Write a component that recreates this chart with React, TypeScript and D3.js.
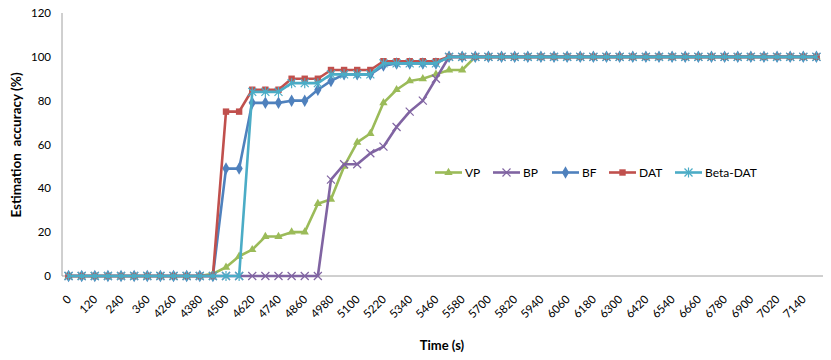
import * as d3 from "d3";
import React from "react";

const categories = [
  0, 60, 120, 180, 240, 300, 360, 4200, 4260, 4320, 4380, 4440, 4500, 4560,
  4620, 4680, 4740, 4800, 4860, 4920, 4980, 5040, 5100, 5160, 5220, 5280,
  5340, 5400, 5460, 5520, 5580, 5640, 5700, 5760, 5820, 5880, 5940, 6000,
  6060, 6120, 6180, 6240, 6300, 6360, 6420, 6480, 6540, 6600, 6660, 6720,
  6780, 6840, 6900, 6960, 7020, 7080, 7140, 7200,
];

const vp = [
  0, 0, 0, 0, 0, 0, 0, 0, 0, 0, 0, 1, 4, 9, 12, 18, 18, 20, 20, 33, 35, 50,
  61, 65, 79, 85, 89, 90, 92, 94, 94, 100, 100, 100, 100, 100, 100, 100, 100,
  100, 100, 100, 100, 100, 100, 100, 100, 100, 100, 100, 100, 100, 100, 100,
  100, 100, 100, 100,
];
const bp = [
  0, 0, 0, 0, 0, 0, 0, 0, 0, 0, 0, 0, 0, 0, 0, 0, 0, 0, 0, 0, 44, 51, 51, 56,
  59, 68, 75, 80, 90, 100, 100, 100, 100, 100, 100, 100, 100, 100, 100, 100,
  100, 100, 100, 100, 100, 100, 100, 100, 100, 100, 100, 100, 100, 100, 100,
  100, 100, 100,
];
const bf = [
  0, 0, 0, 0, 0, 0, 0, 0, 0, 0, 0, 0, 49, 49, 79, 79, 79, 80, 80, 85, 89, 92,
  92, 92, 96, 97, 97, 97, 97, 100, 100, 100, 100, 100, 100, 100, 100, 100,
  100, 100, 100, 100, 100, 100, 100, 100, 100, 100, 100, 100, 100, 100, 100,
  100, 100, 100, 100, 100,
];
const dat = [
  0, 0, 0, 0, 0, 0, 0, 0, 0, 0, 0, 0, 75, 75, 85, 85, 85, 90, 90, 90, 94, 94,
  94, 94, 98, 98, 98, 98, 98, 100, 100, 100, 100, 100, 100, 100, 100, 100,
  100, 100, 100, 100, 100, 100, 100, 100, 100, 100, 100, 100, 100, 100, 100,
  100, 100, 100, 100, 100,
];
const betaDat = [
  0, 0, 0, 0, 0, 0, 0, 0, 0, 0, 0, 0, 0, 0, 84, 84, 84, 88, 88, 88, 92, 92,
  92, 92, 97, 97, 97, 97, 97, 100, 100, 100, 100, 100, 100, 100, 100, 100,
  100, 100, 100, 100, 100, 100, 100, 100, 100, 100, 100, 100, 100, 100, 100,
  100, 100, 100, 100, 100,
];

const yTicks = [0, 20, 40, 60, 80, 100, 120];

const series = [
  { name: "VP", values: vp, color: "#9BBB59", marker: "triangle" },
  { name: "BP", values: bp, color: "#8064A2", marker: "x" },
  { name: "BF", values: bf, color: "#4F81BD", marker: "diamond" },
  { name: "DAT", values: dat, color: "#C0504D", marker: "square" },
  { name: "Beta-DAT", values: betaDat, color: "#4BACC6", marker: "star" },
];

const font = "Lato, 'Open Sans', sans-serif";

function Marker({ type, color, x, y }) {
  if (type === "triangle")
    return (
      <path
        transform={`translate(${x},${y})`}
        d={d3.symbol(d3.symbolTriangle, 30)()}
        fill={color}
      />
    );
  if (type === "diamond")
    return (
      <path
        transform={`translate(${x},${y})`}
        d={d3.symbol(d3.symbolDiamond, 45)()}
        fill={color}
      />
    );
  if (type === "square")
    return <rect x={x - 3.2} y={y - 3.2} width={6.4} height={6.4} fill={color} />;
  const r = 4;
  const p = `M${x - r},${y - r}L${x + r},${y + r}M${x - r},${y + r}L${x + r},${y - r}`;
  if (type === "x")
    return <path d={p} stroke={color} strokeWidth={1.2} fill="none" />;
  return (
    <path
      d={p + `M${x},${y - r - 1}L${x},${y + r + 1}`}
      stroke={color}
      strokeWidth={1.2}
      fill="none"
    />
  );
}

export default function App() {
  const width = 831;
  const height = 360;
  const left = 62;
  const right = 823;
  const top = 13;
  const bottom = 276;

  const x = d3.scaleBand().domain(categories.map(String)).range([left, right]);
  const cx = (i) => x(String(categories[i])) + x.bandwidth() / 2;
  const y = d3.scaleLinear().domain([0, 120]).range([bottom, top]);

  const line = d3
    .line()
    .x((d, i) => cx(i))
    .y((d) => y(d));

  const legendX = [435, 493, 552, 609, 675];

  return (
    <svg
      width={width}
      height={height}
      style={{ position: "absolute", left: 0, top: 0, background: "#fff" }}
      fontFamily={font}
    >
      <line x1={left} x2={left} y1={top} y2={bottom} stroke="#a0a0a0" />
      <line x1={left} x2={right} y1={bottom} y2={bottom} stroke="#a0a0a0" />

      {yTicks.map((t) => (
        <text
          key={t}
          x={51}
          y={y(t)}
          dy="0.35em"
          textAnchor="end"
          fontSize={11.5}
          fill="#000"
        >
          {t}
        </text>
      ))}

      {categories.map((c, i) =>
        i % 2 === 0 ? (
          <text
            key={c}
            transform={`translate(${cx(i) + 3.5},${bottom + 24}) rotate(-45)`}
            textAnchor="end"
            fontSize={11.5}
          >
            {c}
          </text>
        ) : null
      )}

      {series.map((s) => (
        <g key={s.name}>
          <path
            d={line(s.values)}
            fill="none"
            stroke={s.color}
            strokeWidth={2.6}
            strokeLinejoin="round"
          />
          {s.values.map((v, i) => (
            <Marker key={i} type={s.marker} color={s.color} x={cx(i)} y={y(v)} />
          ))}
        </g>
      ))}

      {series.map((s, k) => (
        <g key={s.name}>
          <line
            x1={legendX[k]}
            x2={legendX[k] + 27}
            y1={172.5}
            y2={172.5}
            stroke={s.color}
            strokeWidth={2.6}
          />
          <Marker type={s.marker} color={s.color} x={legendX[k] + 13.5} y={172.5} />
          <text x={legendX[k] + 30} y={172.5} dy="0.35em" fontSize={12}>
            {s.name}
          </text>
        </g>
      ))}

      <text
        transform={`translate(16,145) rotate(-90)`}
        textAnchor="middle"
        dy="0.35em"
        fontSize={13.5}
        fontWeight="bold"
        style={{ whiteSpace: "pre" }}
      >
        {"Estimation  accuracy (%)"}
      </text>
      <text
        x={442}
        y={345}
        textAnchor="middle"
        dy="0.35em"
        fontSize={13}
        fontWeight="bold"
      >
        Time (s)
      </text>
    </svg>
  );
}
